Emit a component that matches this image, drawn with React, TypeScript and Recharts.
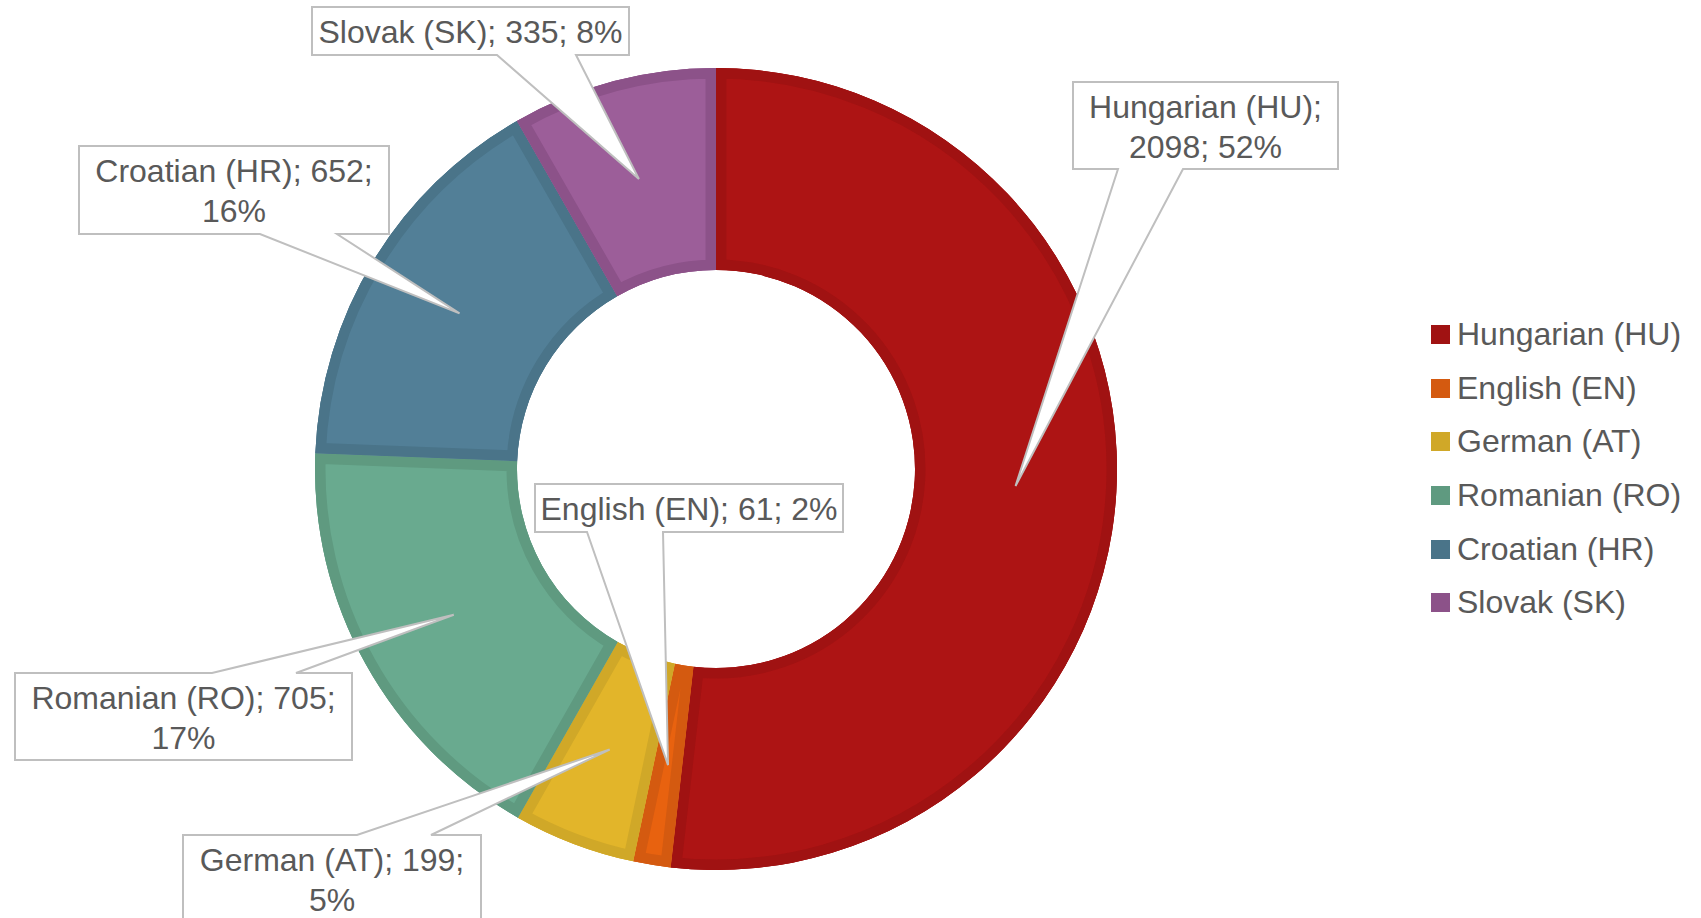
import React from 'react';
import { PieChart, Pie, Cell, Legend, Sector } from 'recharts';

const languages = ['Hungarian (HU)', 'English (EN)', 'German (AT)', 'Romanian (RO)', 'Croatian (HR)', 'Slovak (SK)'];
const speakers = [2098, 61, 199, 705, 652, 335];

const fillColors = ['#AD1414', '#E8620F', '#E2B52A', '#69AA8F', '#527F97', '#9C5E99'];
const borderColors = ['#A01212', '#D45A10', '#D0A828', '#5F9A80', '#4A7489', '#8C5289'];

// callout boxes were dragged around by hand in the original, so keep them here
const callouts = [
  { x: 1073, y: 82, w: 265, h: 87, side: 'bottom', b1: 1118, b2: 1183, breakAfter: 1 },
  { x: 535, y: 484, w: 308, h: 48, side: 'bottom', b1: 587, b2: 663, breakAfter: 3 },
  { x: 183, y: 835, w: 298, h: 87, side: 'top', b1: 357, b2: 431, breakAfter: 2 },
  { x: 15, y: 673, w: 337, h: 87, side: 'top', b1: 212, b2: 296, breakAfter: 2 },
  { x: 79, y: 146, w: 310, h: 88, side: 'bottom', b1: 260, b2: 337, breakAfter: 2 },
  { x: 312, y: 7, w: 317, h: 48, side: 'bottom', b1: 497, b2: 576, breakAfter: 3 },
];

const data = languages.map((name, i) => ({ name, value: speakers[i] }));

const FONT = "'Liberation Sans', Arial, sans-serif";
const TEXT_COLOR = '#595959';
const RADIAN = Math.PI / 180;

// lighter slice inside the darker ring, clipped so the border sits inside
const renderInset = (props: any) => {
  const { cx, cy, innerRadius, outerRadius, startAngle, endAngle, index } = props;
  const id = `slice-clip-${index}`;
  return (
    <g key={id}>
      <defs>
        <clipPath id={id}>
          <Sector cx={cx} cy={cy} innerRadius={innerRadius} outerRadius={outerRadius} startAngle={startAngle} endAngle={endAngle} />
        </clipPath>
      </defs>
      <g clipPath={`url(#${id})`}>
        <Sector
          cx={cx}
          cy={cy}
          innerRadius={innerRadius}
          outerRadius={outerRadius}
          startAngle={startAngle}
          endAngle={endAngle}
          fill={fillColors[index]}
          stroke={borderColors[index]}
          strokeWidth={21}
        />
      </g>
    </g>
  );
};

const renderCallout = (props: any) => {
  const { cx, cy, innerRadius, outerRadius, midAngle, index, percent } = props;
  const box = callouts[index];
  if (!box) return null;
  const r = (innerRadius + outerRadius) / 2;
  const tx = cx + r * Math.cos(-midAngle * RADIAN);
  const ty = cy + r * Math.sin(-midAngle * RADIAN);

  const { x, y, w, h, side, b1, b2 } = box;
  let d;
  if (side === 'top') {
    d = `M${x},${y} H${b1} L${tx},${ty} L${b2},${y} H${x + w} V${y + h} H${x} Z`;
  } else {
    d = `M${x},${y} H${x + w} V${y + h} H${b2} L${tx},${ty} L${b1},${y + h} H${x} Z`;
  }

  const tokens = [languages[index], String(speakers[index]), `${Math.round(percent * 100)}%`];
  const first = tokens.slice(0, box.breakAfter).join('; ') + (box.breakAfter < tokens.length ? ';' : '');
  const second = tokens.slice(box.breakAfter).join('; ');
  const lines = second ? [first, second] : [first];

  return (
    <g key={`callout-${index}`}>
      <path d={d} fill="#fff" stroke="#BFBFBF" strokeWidth={2} strokeLinejoin="miter" />
      {lines.map((line, li) => (
        <text
          key={li}
          x={x + w / 2}
          y={y + 36 + li * 40}
          textAnchor="middle"
          fill={TEXT_COLOR}
          fontSize={32}
          fontFamily={FONT}
        >
          {line}
        </text>
      ))}
    </g>
  );
};

const renderLegend = (props: any) => {
  const items = (props.payload || [])
    .filter((p: any) => p.type !== 'none')
    .slice()
    .sort((a: any, b: any) => languages.indexOf(a.value) - languages.indexOf(b.value));
  return (
    <div>
      {items.map((entry: any) => {
        const i = languages.indexOf(entry.value);
        return (
          <div key={entry.value} style={{ display: 'flex', alignItems: 'center', height: 53.6 }}>
            <span style={{ width: 19, height: 19, background: borderColors[i], display: 'inline-block' }} />
            <span style={{ marginLeft: 7, fontSize: 32, color: TEXT_COLOR, fontFamily: FONT, whiteSpace: 'nowrap' }}>
              {entry.value}
            </span>
          </div>
        );
      })}
    </div>
  );
};

const App: React.FC = () => {
  return (
    <div style={{ position: 'absolute', left: 0, top: 0, width: 1701, height: 918, background: '#fff' }}>
      <PieChart width={1701} height={918} margin={{ top: 0, right: 0, bottom: 0, left: 0 }}>
        <Pie
          data={data}
          dataKey="value"
          nameKey="name"
          cx={716}
          cy={469}
          innerRadius={199}
          outerRadius={401}
          startAngle={90}
          endAngle={-270}
          stroke="none"
          label={renderInset}
          labelLine={false}
          isAnimationActive={false}
        >
          {data.map((d, i) => (
            <Cell key={d.name} fill={borderColors[i]} />
          ))}
        </Pie>
        <Pie
          data={data}
          dataKey="value"
          nameKey="name"
          cx={716}
          cy={469}
          innerRadius={199}
          outerRadius={401}
          startAngle={90}
          endAngle={-270}
          fill="none"
          stroke="none"
          legendType="none"
          label={renderCallout}
          labelLine={false}
          isAnimationActive={false}
        />
        <Legend
          layout="vertical"
          align="right"
          verticalAlign="middle"
          content={renderLegend}
          wrapperStyle={{ left: 1431, top: 308, width: 270, right: 'auto', bottom: 'auto' }}
        />
      </PieChart>
    </div>
  );
};

export default App;
